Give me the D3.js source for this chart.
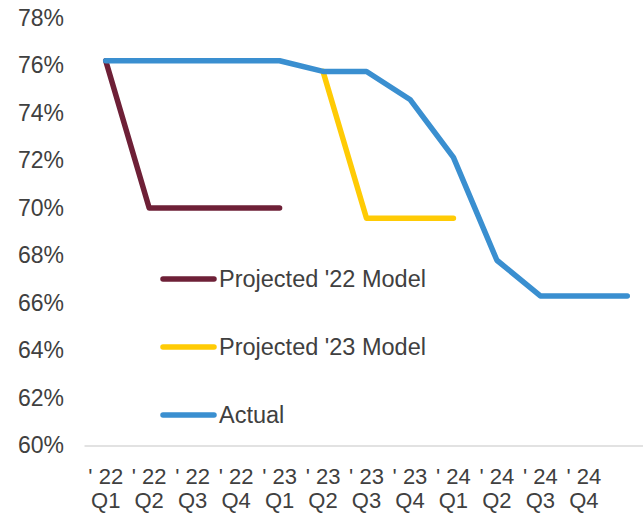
<!DOCTYPE html>
<html>
<head>
<meta charset="utf-8">
<script src="https://cdn.jsdelivr.net/npm/d3@7"></script>
<style>
  html, body { margin: 0; padding: 0; background: #fff; }
  svg { display: block; }
  text { font-family: "Liberation Sans", Arial, sans-serif; fill: #404040; }
</style>
</head>
<body>
<svg id="chart" width="643" height="513"></svg>
<script>
// ---- data ----
const categories = ["' 22 Q1", "' 22 Q2", "' 22 Q3", "' 22 Q4",
                    "' 23 Q1", "' 23 Q2", "' 23 Q3", "' 23 Q4",
                    "' 24 Q1", "' 24 Q2", "' 24 Q3", "' 24 Q4", ""];
const projected22 = [76.2, 70.0, 70.0, 70.0, 70.0, null, null, null, null, null, null, null, null];
const projected23 = [null, null, null, null, null, 75.75, 69.57, 69.57, 69.57, null, null, null, null];
const actual      = [76.2, 76.2, 76.2, 76.2, 76.2, 75.75, 75.75, 74.57, 72.13, 67.8, 66.3, 66.3, 66.3];
const yTicks = [60, 62, 64, 66, 68, 70, 72, 74, 76, 78];
const seriesNames = ["Projected '22 Model", "Projected '23 Model", "Actual"];
const seriesColors = ["#6e2037", "#ffcb05", "#3a8fd0"];

// ---- layout ----
const svg = d3.select("#chart");
const x = d3.scalePoint().domain(categories).range([84, 649]).padding(0.5);
const y = d3.scaleLinear().domain([60, 78]).range([445.5, 18]);

// baseline / x axis
const xAxis = svg.append("g")
  .attr("transform", `translate(0,${y(60)})`)
  .call(d3.axisBottom(x).tickSize(0).tickFormat(""));
xAxis.select(".domain").attr("stroke", "#d9d9d9").attr("stroke-width", 1.5);

const xLabels = svg.append("g");
categories.forEach(c => {
  if (!c) return;
  const parts = c.split(" Q");
  const t = xLabels.append("text")
    .attr("text-anchor", "middle")
    .attr("font-size", 22)
    .attr("x", x(c));
  t.append("tspan").attr("x", x(c)).attr("y", 484).text(parts[0]);
  t.append("tspan").attr("x", x(c)).attr("y", 508).text("Q" + parts[1]);
});

// y axis
const yAxis = svg.append("g")
  .attr("transform", "translate(84,0)")
  .call(d3.axisLeft(y).tickValues(yTicks).tickFormat(d => d + "%").tickSize(0).tickPadding(20));
yAxis.select(".domain").remove();
yAxis.selectAll("text")
  .attr("font-size", 23)
  .attr("font-family", "Liberation Sans, Arial, sans-serif")
  .attr("fill", "#404040");

// lines
const line = d3.line()
  .defined(d => d.v != null)
  .x(d => x(d.c))
  .y(d => y(d.v));

const allSeries = [projected22, projected23, actual];
allSeries.forEach((s, i) => {
  svg.append("path")
    .datum(s.map((v, j) => ({ c: categories[j], v })))
    .attr("fill", "none")
    .attr("stroke", seriesColors[i])
    .attr("stroke-width", 5.5)
    .attr("stroke-linecap", "round")
    .attr("stroke-linejoin", "round")
    .attr("d", line);
});

// legend
const legendY = [279, 347, 415];
seriesNames.forEach((name, i) => {
  const g = svg.append("g").attr("transform", `translate(0,${legendY[i]})`);
  g.append("line")
    .attr("x1", 163).attr("x2", 214)
    .attr("y1", 0).attr("y2", 0)
    .attr("stroke", seriesColors[i])
    .attr("stroke-width", 5.5)
    .attr("stroke-linecap", "round");
  g.append("text")
    .attr("x", 219).attr("y", 0)
    .attr("dy", "0.35em")
    .attr("font-size", 23.5)
    .text(name);
});
</script>
</body>
</html>
